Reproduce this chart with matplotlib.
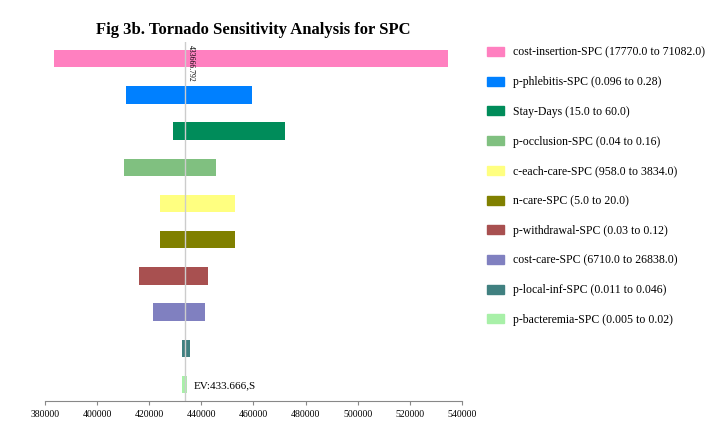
import matplotlib.pyplot as plt
from matplotlib.patches import Patch

plt.rcParams['font.family'] = ['Liberation Serif', 'DejaVu Serif']

labels = ['cost-insertion-SPC (17770.0 to 71082.0)', 'p-phlebitis-SPC (0.096 to 0.28)',
          'Stay-Days (15.0 to 60.0)', 'p-occlusion-SPC (0.04 to 0.16)',
          'c-each-care-SPC (958.0 to 3834.0)', 'n-care-SPC (5.0 to 20.0)',
          'p-withdrawal-SPC (0.03 to 0.12)', 'cost-care-SPC (6710.0 to 26838.0)',
          'p-local-inf-SPC (0.011 to 0.046)', 'p-bacteremia-SPC (0.005 to 0.02)']
low = [383400, 410900, 429000, 410400, 424100, 424100, 416200, 421400, 432700, 432600]
high = [534600, 459400, 472100, 445500, 453000, 453000, 442600, 441400, 435600, 434400]
colors = ['#ff80c0', '#0080ff', '#008c5a', '#80c080', '#ffff80', '#808000',
          '#a85050', '#8080c0', '#408080', '#a8f0a8']
ev = 433666

fig = plt.figure(figsize=(7.06, 4.24), dpi=100)
ax = fig.add_axes([0.064, 0.055, 0.59, 0.845])
n = len(labels)
for i in range(n):
    ax.barh(n - 1 - i, high[i] - low[i], left=low[i], height=0.48, color=colors[i])
ax.axvline(ev, color='#cccccc', lw=1)
ax.text(ev + 700, n - 0.62, '433666.792', rotation=270, fontsize=5.5, va='top', ha='left')
ax.text(ev + 3500, -0.05, 'EV:433.666,S', fontsize=8, va='center')
ax.set_xlim(380000, 540000)
ax.set_ylim(-0.45, n - 0.55)
ax.set_xticks(range(380000, 540001, 20000))
ax.tick_params(axis='x', labelsize=7, length=3, color='#888888')
ax.set_yticks([])
for s in ['left', 'right', 'top']:
    ax.spines[s].set_visible(False)
ax.spines['bottom'].set_color('#888888')
ax.set_title('Fig 3b. Tornado Sensitivity Analysis for SPC', fontsize=12, fontweight='bold', pad=6)

handles = [Patch(color=c, label=l) for c, l in zip(colors, labels)]
fig.legend(handles=handles, loc='upper left', bbox_to_anchor=(0.675, 0.915), frameon=False,
           fontsize=8.5, handlelength=1.4, handleheight=0.8, labelspacing=1.5)
fig.savefig('out.png', dpi=100)
